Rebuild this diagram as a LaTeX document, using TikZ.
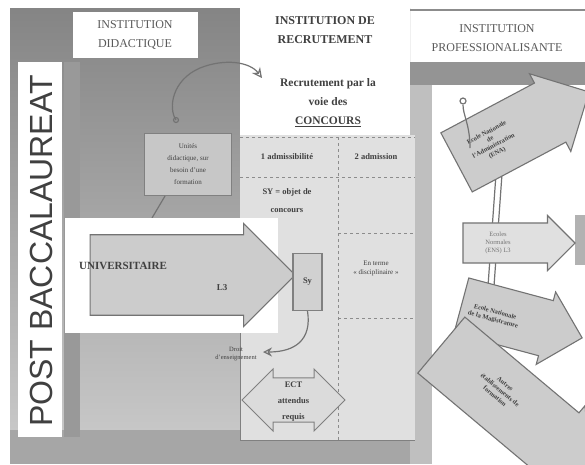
\documentclass[tikz,border=0pt]{standalone}
\usepackage{fontspec}
\setmainfont{Liberation Serif}
\newfontfamily\sansf{Liberation Sans}
\usetikzlibrary{shapes.arrows,arrows.meta}
\begin{document}
\begin{tikzpicture}[x=1pt,y=-1pt,
  hdr/.style={font=\fontsize{12}{19}\selectfont, align=center, text=black!65, inner sep=3pt},
  txt/.style={font=\fontsize{8.5}{10}\selectfont\bfseries, align=center, text=black!75, inner sep=1pt},
  bigarrow/.style={single arrow, draw=black!55, line width=1.1pt, fill=black!20, single arrow head indent=0pt, inner xsep=0pt},
  conn/.style={draw=black!55, line width=1.2pt},
  dsh/.style={draw=black!45, line width=0.8pt, dashed}]
\useasboundingbox (0,0) rectangle (585,464);
% backgrounds
\fill[white] (0,0) rectangle (585,464);
\shade[top color=black!48, bottom color=black!22] (10,8) rectangle (410,430);
\fill[black!35] (10,430) rectangle (585,464);
\fill[black!42] (410,62) rectangle (585,85);
\fill[black!25] (410,85) rectangle (432,464);
\fill[white] (432,85) rectangle (585,464);
% middle column
\fill[black!12] (240,135) rectangle (415,440);
\fill[white] (240,0) rectangle (410,135);
\node[hdr, text=black!75] (rec) at (325,30) {\bfseries INSTITUTION DE\\\bfseries RECRUTEMENT};
\node[txt, font=\fontsize{11.5}{19}\selectfont\bfseries] (conc) at (328,103) {Recrutement par la\\voie des\\\underline{CONCOURS}};
\draw[dsh] (240,137) -- (415,137);
\draw[dsh] (240,177) -- (415,177);
\draw[dsh] (338,137) -- (338,440);
\draw[dsh] (338,233) -- (415,233);
\draw[dsh] (338,318) -- (415,318);
\draw[black!50, line width=0.8pt] (240,330) -- (240,440) -- (415,440);
\node[txt] (adm1) at (287,157) {1 admissibilité};
\node[txt] (adm2) at (376,157) {2 admission};
\node[txt, font=\fontsize{8.5}{18}\selectfont\bfseries] (obj) at (287,201) {SY = objet de\\concours};
\node[txt, font=\fontsize{7}{9}\selectfont] (disc) at (376,268) {En terme\\« disciplinaire »};
% institution didactique
\node[hdr, fill=white, minimum width=125pt, minimum height=46pt] (did) at (135,35) {INSTITUTION\\DIDACTIQUE};
% institution professionnalisante
\draw[black!45, line width=2pt] (410,10) -- (585,10);
\node[hdr] (pro) at (497,38) {INSTITUTION\\PROFESSIONALISANTE};
% post bac
\fill[black!40] (64,62) rectangle (80,437);
\node[fill=white, minimum width=44pt, minimum height=375pt, inner sep=0pt] (pbbox) at (40,249.5) {};
\node[rotate=90, font=\sansf\fontsize{32}{34}\selectfont, text=black!75] (pb) at (41,251) {POST BACCALAUREAT};
% small box
\node[draw=black!50, line width=1pt, fill=black!22, minimum width=87pt, minimum height=62pt, txt, font=\fontsize{7}{12}\selectfont] (unit) at (188,164) {Unités\\didactique, sur\\besoin d'une\\formation};
\draw[conn, -{Stealth[length=10pt,width=10pt,open]}] (176,120) .. controls (168,108) and (172,80) .. (200,68) .. controls (225,58) and (250,62) .. (262,78);
\draw[conn] (176,120) circle (2.5pt);
\draw[conn] (165,196) -- (152,218);
% universitaire
\fill[white] (65,218) rectangle (278,333);
\node[bigarrow, minimum height=205pt, minimum width=103pt, inner ysep=25pt] (univ) at (172.5,275) {};
\node[txt, font=\fontsize{11}{13}\selectfont\bfseries, anchor=west] (univt) at (78,266) {UNIVERSITAIRE};
\node[txt, font=\fontsize{9}{11}\selectfont\bfseries] (l3) at (222,288) {L3};
% Sy
\node[draw=black!50, line width=1.2pt, fill=black!18, minimum width=29pt, minimum height=57pt, txt] (sy) at (307.5,282) {Sy};
\draw[conn, -{Stealth[length=9pt,width=9pt,open]}] (sy.south) .. controls (312,340) and (295,352) .. (263,352);
\node[txt, font=\fontsize{6.5}{8}\selectfont] (droit) at (236,354) {Droit\\d'enseignement};
\node[double arrow, draw=black!50, line width=1pt, fill=black!14, minimum height=103pt, minimum width=62pt, inner ysep=17pt, inner xsep=0pt, double arrow head indent=0pt] (ect) at (293.5,400) {};
\node[txt, font=\fontsize{8.5}{16}\selectfont\bfseries] (ectt) at (293.5,402) {ECT\\attendus\\requis};
% right side arrows
\fill[black!30] (575,215) rectangle (585,265);
\draw[conn] (497,160) -- (487,300);
\draw[conn] (503,160) -- (493,300);
\node[bigarrow, rotate=28, minimum height=150pt, minimum width=88pt, inner ysep=22pt] (ena) at (508,135) {};
\node[txt, rotate=28, font=\fontsize{6.5}{7.5}\selectfont\bfseries] (enat) at (492,143) {Ecole Nationale\\de\\l'Administration\\(ENA)};
\draw[conn] (470,148) .. controls (470,125) and (463,115) .. (463,105);
\draw[conn] (463,101) circle (3pt);
\node[bigarrow, fill=black!12, minimum height=112pt, minimum width=55pt, inner ysep=18.5pt] (ens) at (509,243) {};
\node[txt, font=\fontsize{6.5}{8}\selectfont, text=black!55] (enst) at (498,243) {Ecoles\\Normales\\(ENS) L3};
\node[bigarrow, rotate=-15, minimum height=125pt, minimum width=75pt, inner ysep=22pt] (enm) at (508,318) {};
\node[txt, rotate=-15, font=\fontsize{6.5}{8}\selectfont\bfseries] (enmt) at (494,316) {Ecole Nationale\\de la Magistrature};
\node[bigarrow, rotate=-40, minimum height=195pt, minimum width=92pt, inner ysep=27pt] (aut) at (502,396) {};
\node[txt, rotate=-40, font=\fontsize{6.5}{8}\selectfont\bfseries] (autt) at (500,390) {Autres\\établissements de\\formation};
\end{tikzpicture}
\end{document}
